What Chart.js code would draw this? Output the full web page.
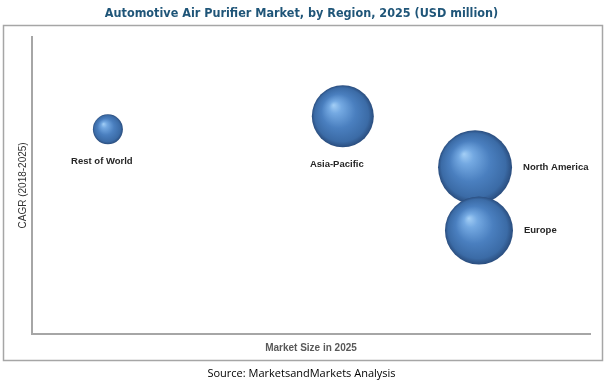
<!DOCTYPE html>
<html>
<head>
<meta charset="utf-8">
<script src="https://cdn.jsdelivr.net/npm/chart.js@4.4.1/dist/chart.umd.min.js"></script>
<style>
  html, body { margin: 0; padding: 0; background: #fff; }
  #wrap { width: 606px; height: 383px; }
</style>
</head>
<body>
<div id="wrap"><canvas id="mychart"></canvas></div>
<script>
// values (axis units 0-100, no ticks shown)
const regions = ['Rest of World', 'Asia-Pacific', 'North America', 'Europe'];
const marketSize = [13.6, 55.7, 79.4, 80.1];
const cagr = [68.9, 73.3, 56.1, 34.8];
const bubbleSize = [15, 31, 37, 34];
const labelSide = ['below', 'below', 'right', 'right'];

const points = [];
for (var i = 0; i < regions.length; i++) {
  points.push({x: marketSize[i], y: cagr[i], r: bubbleSize[i]});
}

function sphere(ctx) {
  const chart = ctx.chart;
  const p = ctx.raw;
  if (!p || !chart.scales.x || !chart.scales.y) return '#4a7ebb';
  const cx = chart.scales.x.getPixelForValue(p.x);
  const cy = chart.scales.y.getPixelForValue(p.y);
  const r = p.r;
  if (!isFinite(cx) || !isFinite(cy)) return '#4a7ebb';
  const g = chart.ctx.createRadialGradient(cx - r * 0.3, cy - r * 0.36, 0, cx, cy, r);
  g.addColorStop(0, '#a4cff6');
  g.addColorStop(0.2, '#74a9e2');
  g.addColorStop(0.55, '#4a7fbf');
  g.addColorStop(0.87, '#3b6ba6');
  g.addColorStop(1, '#2a4d7e');
  return g;
}

const frame = {
  id: 'frame',
  beforeDraw(chart) {
    const c = chart.ctx;
    c.save();
    c.fillStyle = '#fff';
    c.fillRect(0, 0, chart.width, chart.height);
    c.strokeStyle = '#a6a6a6';
    c.lineWidth = 1.5;
    c.strokeRect(3.5, 25.5, 599, 335);
    c.restore();
  }
};

const bubbleLabels = {
  id: 'bubbleLabels',
  afterDatasetsDraw(chart) {
    const c = chart.ctx;
    const meta = chart.getDatasetMeta(0);
    c.save();
    c.font = 'bold 9.5px "Liberation Sans", Arial, sans-serif';
    c.fillStyle = '#262626';
    c.textBaseline = 'middle';
    meta.data.forEach(function(el, i) {
      const r = bubbleSize[i];
      if (labelSide[i] === 'below') {
        c.textAlign = 'center';
        c.fillText(regions[i], el.x - 6, el.y + r + 17);
      } else {
        c.textAlign = 'left';
        c.fillText(regions[i], el.x + r + 11, el.y);
      }
    });
    c.restore();
  }
};

const ctx = document.getElementById('mychart').getContext('2d');
const myChart = new Chart(ctx, {
  type: 'bubble',
  data: {
    datasets: [{
      label: 'Regions',
      data: points,
      backgroundColor: sphere,
      borderWidth: 0,
      hoverBorderWidth: 0
    }]
  },
  plugins: [frame, bubbleLabels],
  options: {
    responsive: true,
    maintainAspectRatio: false,
    animation: false,
    events: [],
    layout: { autoPadding: false, padding: { left: 13, right: 16, top: 0, bottom: 0 } },
    plugins: {
      legend: { display: false },
      tooltip: { enabled: false },
      title: {
        display: true,
        text: 'Automotive Air Purifier Market, by Region, 2025 (USD million)',
        color: '#1f5578',
        font: { family: '"Liberation Sans Narrow", "DejaVu Sans Condensed", sans-serif', size: 12.5, weight: 'bold', lineHeight: 1.44 },
        padding: { top: 5, bottom: 14 }
      },
      subtitle: {
        display: true,
        position: 'bottom',
        text: 'Source: MarketsandMarkets Analysis',
        color: '#000',
        font: { family: '"Open Sans", sans-serif', size: 11 },
        padding: { top: 9, bottom: 3 }
      }
    },
    scales: {
      x: {
        min: 0, max: 100,
        grid: { display: false, drawTicks: false },
        ticks: { display: false },
        border: { color: '#a6a6a6', width: 2 },
        title: {
          display: true,
          text: 'Market Size in 2025',
          color: '#595959',
          font: { family: '"Liberation Sans", Arial, sans-serif', size: 10, weight: 'bold' },
          padding: { top: 8, bottom: 4 }
        }
      },
      y: {
        min: 0, max: 100,
        grid: { display: false, drawTicks: false },
        ticks: { display: false },
        border: { color: '#a6a6a6', width: 2 },
        title: {
          display: true,
          text: 'CAGR (2018-2025)',
          color: '#333333',
          font: { family: '"Liberation Sans", Arial, sans-serif', size: 10 },
          padding: { top: 4, bottom: 3 }
        }
      }
    }
  }
});
</script>
</body>
</html>
